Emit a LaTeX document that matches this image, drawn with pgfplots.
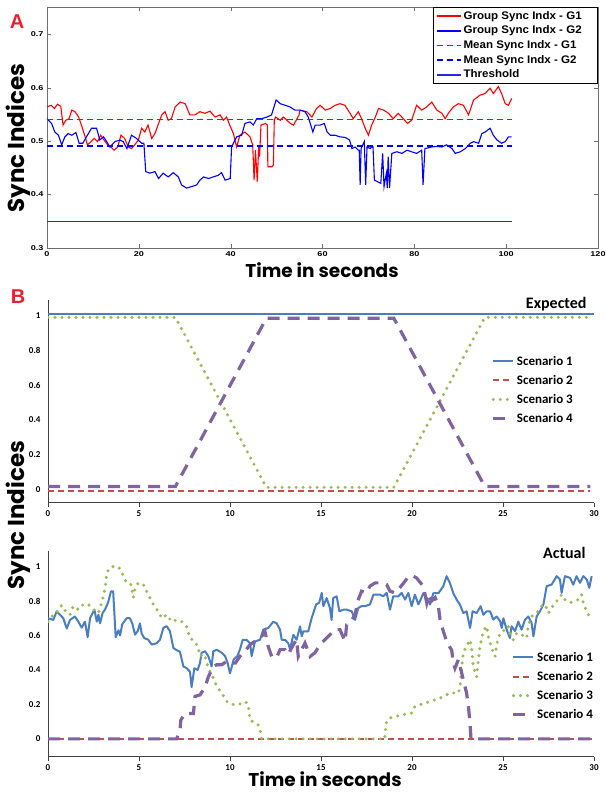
\documentclass[border=0pt]{standalone}
\usepackage{fontspec}
\setmainfont{Liberation Sans}
\newfontfamily\wide{Liberation Sans}[FakeStretch=1.3]
\newfontfamily\wider{Liberation Sans}[FakeStretch=1.05]
\newfontfamily\calib{Carlito}
\newfontfamily\gothic{Poppins}
\usepackage{pgfplots}
\pgfplotsset{compat=1.18}

\definecolor{gA}{RGB}{255,0,0}
\definecolor{gB}{RGB}{0,0,255}
\definecolor{thr}{RGB}{40,40,215}
\definecolor{sOne}{RGB}{74,126,193}
\definecolor{sTwo}{RGB}{192,80,77}
\definecolor{sThree}{RGB}{155,187,89}
\definecolor{sFour}{RGB}{128,100,162}
\definecolor{lblred}{RGB}{235,30,45}
\definecolor{frameA}{RGB}{110,110,110}

\pgfplotsset{
  scenario/.style={
    scale only axis, width=546pt,
    xmin=0, xmax=30, xtick={0,5,10,15,20,25,30},
    ytick={0,0.2,0.4,0.6,0.8,1},
    axis x line*=bottom, axis y line*=left,
    axis line style={black!75, line width=1pt},
    tick align=outside, major tick length=4pt,
    xtick style={black!75, line width=0.8pt}, ytick style={draw=none},
    ticklabel style={font=\calib\bfseries\fontsize{9}{10}\selectfont},
    /pgf/number format/assume math mode=true,
    legend image code/.code={\draw[##1] (0pt,0pt) -- (20pt,0pt);},
    legend cell align=left,
  },
  s1/.style={color=sOne, line width=2.4pt},
  s2/.style={color=sTwo, line width=2pt, dash pattern=on 6pt off 4pt},
  s3/.style={color=sThree, line width=3.4pt, line cap=round, dash pattern=on 0pt off 7pt},
  s4/.style={color=sFour, line width=3.2pt, dash pattern=on 12pt off 8pt},
  gone/.style={color=gA, line width=1.1pt},
  gtwo/.style={color=gB, line width=1.1pt},
  mone/.style={color=gA, line width=1.3pt, dash pattern=on 6pt off 4pt},
  mtwo/.style={color=gB, line width=1.3pt, dash pattern=on 6pt off 4pt},
  thresh/.style={color=thr, line width=1.4pt},
}

\begin{document}
\begin{tikzpicture}
\useasboundingbox (0,0) rectangle (605pt,794pt);

% ---------------- panel A ----------------
\begin{axis}[
  at={(47pt,546pt)}, anchor=south west,
  scale only axis, width=551pt, height=240.5pt,
  xmin=0, xmax=120, ymin=0.3, ymax=0.75,
  xtick={0,20,40,60,80,100,120},
  ytick={0.3,0.4,0.5,0.6,0.7},
  yticklabels={0.3,0.4,0.5,0.6,0.7},
  tick align=inside, major tick length=4pt,
  axis line style={frameA}, tick style={frameA},
  ticklabel style={font=\wide\bfseries\fontsize{7}{8}\selectfont},
  /pgf/number format/assume math mode=true,
  legend image code/.code={\draw[#1, line width=1.7pt] (0pt,0pt) -- (24pt,0pt);},
  legend cell align=left,
  legend style={at={(1,1)}, anchor=north east, draw=black, line width=0.6pt,
    font=\wider\bfseries\fontsize{11}{12}\selectfont, row sep=1.2pt, inner ysep=1.5pt},
]
% G1 group sync index
\addplot[gone] coordinates {
(0,0.564) (0.9,0.567) (1.6,0.561) (2.3,0.569) (3.0,0.565) (3.5,0.530) (4.1,0.539) (4.8,0.542)
(5.4,0.558) (6.1,0.555) (6.9,0.545) (7.6,0.527) (8.3,0.508) (8.8,0.493) (9.6,0.499) (10.3,0.505)
(11.0,0.499) (11.7,0.511) (12.4,0.502) (13.2,0.493) (13.9,0.489) (14.6,0.483) (15.4,0.489)
(16.1,0.511) (16.9,0.505) (17.7,0.489) (18.4,0.486) (19.1,0.493) (19.9,0.502) (20.6,0.524)
(21.3,0.517) (22.0,0.530) (22.8,0.505) (23.5,0.514) (24.3,0.533) (25.0,0.549) (25.7,0.555)
(26.4,0.539) (27.1,0.542) (27.9,0.564) (29.0,0.573) (30.1,0.570) (31.1,0.549) (32.2,0.549)
(33.3,0.555) (34.4,0.552) (35.5,0.556) (36.6,0.545) (37.7,0.549) (38.4,0.539) (39.1,0.545)
(39.8,0.530) (40.6,0.514) (41.3,0.489) (42.0,0.511) (43.1,0.517) (44.2,0.508) (44.8,0.493)
(45.1,0.427) (45.4,0.483) (45.8,0.424) (46.1,0.489) (46.3,0.471) (46.6,0.530) (47.6,0.533)
(48.0,0.530) (48.1,0.452) (49.0,0.452) (49.3,0.455) (49.5,0.540) (49.8,0.545) (50.8,0.539)
(51.5,0.545) (53.0,0.533) (53.7,0.530) (54.9,0.549)
(55.1,0.558) (56.6,0.555) (57.7,0.545) (58.7,0.561) (59.5,0.567) (60.6,0.558) (61.7,0.561)
(62.7,0.567) (63.8,0.570) (64.9,0.567) (66.0,0.552) (66.7,0.542) (67.8,0.555) (68.5,0.542)
(69.3,0.524) (70.0,0.511) (70.7,0.530) (71.5,0.545) (72.2,0.561) (73.3,0.558) (74.4,0.552)
(75.4,0.542) (76.5,0.552) (77.6,0.542) (78.5,0.533) (79.4,0.539) (80.5,0.567) (81.6,0.558)
(82.7,0.564) (83.8,0.573) (84.9,0.558) (86.0,0.552) (86.7,0.542) (87.4,0.552) (88.5,0.564)
(89.6,0.570) (90.7,0.567) (91.8,0.549) (92.9,0.577) (94.3,0.586) (95.4,0.589) (96.5,0.599)
(97.2,0.589) (98.3,0.602) (99.0,0.589) (99.8,0.570) (100.5,0.567) (101.2,0.580)
};
\addlegendentry{Group Sync Indx - G1\hspace*{11pt}}
% G2 group sync index
\addplot[gtwo] coordinates {
(0,0.542) (1.0,0.533) (1.7,0.517) (2.5,0.511) (3.2,0.493) (3.9,0.508) (4.6,0.514) (5.4,0.511)
(6.3,0.516) (7.0,0.496) (7.8,0.496) (8.6,0.508) (9.7,0.524) (10.8,0.524) (11.5,0.502)
(12.3,0.508) (13.0,0.499) (13.7,0.489) (14.8,0.499) (15.9,0.502) (16.6,0.499) (17.4,0.486)
(18.4,0.511) (19.5,0.505) (20.6,0.496) (21.1,0.496) (21.5,0.443) (22.4,0.440) (23.5,0.443)
(24.3,0.430) (25.3,0.440) (26.4,0.433) (27.5,0.441) (28.6,0.433) (29.3,0.418) (30.4,0.412)
(31.5,0.415) (32.6,0.418) (33.3,0.427) (34.1,0.433) (35.2,0.430) (36.2,0.433) (37.3,0.436)
(38.0,0.441) (38.8,0.427) (39.9,0.430) (40.2,0.489) (40.6,0.496) (41.3,0.508) (42.4,0.511)
(43.1,0.533) (44.2,0.536) (44.9,0.530) (45.7,0.542) (46.8,0.542) (47.9,0.545) (48.9,0.549)
(49.9,0.577) (50.8,0.570) (51.9,0.567) (52.9,0.564) (54.0,0.558) (55.1,0.558)
(56.2,0.555) (56.9,0.545) (57.9,0.517) (58.4,0.530) (59.5,0.530) (60.4,0.533) (61.0,0.517)
(61.7,0.511) (62.7,0.511) (63.8,0.508) (64.9,0.507) (65.9,0.502) (66.4,0.486) (67.1,0.489)
(67.8,0.483) (68.0,0.483) (68.2,0.418) (68.4,0.486) (69.1,0.499) (69.4,0.418) (69.7,0.489)
(70.4,0.486) (70.7,0.489) (71.0,0.489) (71.3,0.427) (72.0,0.424) (72.7,0.421) (73.1,0.477)
(73.4,0.415) (73.9,0.440) (74.1,0.412) (74.3,0.471) (74.6,0.412) (75.1,0.477) (76.2,0.480)
(77.3,0.477) (78.4,0.483) (79.4,0.480) (80.5,0.477) (81.6,0.483) (81.9,0.418) (82.3,0.486)
(83.8,0.489) (84.9,0.490) (86.0,0.489) (87.0,0.493) (88.2,0.486) (88.9,0.477) (90.0,0.480)
(91.1,0.486) (92.2,0.496) (92.9,0.499) (94.0,0.496) (94.7,0.514) (95.4,0.517) (96.5,0.524)
(97.2,0.511) (98.0,0.502) (99.0,0.496) (99.8,0.499) (100.5,0.508) (101.2,0.508)
};
\addlegendentry{Group Sync Indx - G2}
\addplot[mone] coordinates {(0,0.541) (50,0.541) (101.2,0.541)};
\addlegendentry{Mean Sync Indx - G1}
\addplot[mtwo] coordinates {(0,0.491) (50,0.491) (101.2,0.491)};
\addlegendentry{Mean Sync Indx - G2}
\addplot[thresh] coordinates {(0,0.35) (50,0.35) (101.2,0.35)};
\addlegendentry{Threshold}
\end{axis}

% ---------------- panel B, expected ----------------
\begin{axis}[scenario,
  at={(48pt,291pt)}, anchor=south west, height=203pt,
  ymin=-0.08, ymax=1.09,
  legend style={at={(0.812,0.735)}, anchor=north west, draw=none, fill=none,
    font=\calib\bfseries\fontsize{13}{14}\selectfont, row sep=4.5pt, inner sep=0pt},
]
\addplot[s1] coordinates {(0,1.01) (30,1.01)};
\addlegendentry{Scenario 1}
\addplot[s2] coordinates {(0,-0.01) (29.8,-0.01)};
\addlegendentry{Scenario 2}
\addplot[s3] coordinates {(0,0.99) (7,0.99) (12,0.01) (19,0.01) (24,0.99) (29.8,0.99)};
\addlegendentry{Scenario 3}
\addplot[s4] coordinates {(0,0.015) (7,0.015) (12,0.985) (19,0.985) (24,0.015) (29.8,0.015)};
\addlegendentry{Scenario 4}
\end{axis}

% ---------------- panel B, actual ----------------
\begin{axis}[scenario,
  at={(48pt,37pt)}, anchor=south west, height=206pt,
  ymin=-0.105, ymax=1.09,
  legend style={at={(0.849,0.52)}, anchor=north west, draw=none, fill=none,
    font=\calib\bfseries\fontsize{13}{14}\selectfont, row sep=4.5pt, inner sep=0pt},
]
\addplot[s1, line width=2pt, line join=round] coordinates {
(0,0.70) (0.29,0.69) (0.48,0.74) (0.66,0.72) (0.84,0.70) (1.03,0.64) (1.21,0.69) (1.48,0.71)
(1.67,0.68) (1.85,0.645) (2.03,0.68) (2.18,0.59) (2.31,0.70) (2.55,0.75) (2.68,0.68) (2.77,0.72)
(2.86,0.67) (3.0,0.73) (3.13,0.75) (3.3,0.79) (3.46,0.856) (3.58,0.856) (3.72,0.59) (3.87,0.63)
(3.96,0.60) (4.08,0.665) (4.32,0.70) (4.5,0.70) (4.63,0.67) (4.78,0.605) (4.93,0.625) (5.05,0.67)
(5.15,0.61) (5.29,0.585) (5.51,0.575) (5.7,0.547) (5.97,0.555) (6.15,0.575) (6.34,0.644)
(6.52,0.654) (6.7,0.625) (6.89,0.527) (7.07,0.515) (7.25,0.505) (7.44,0.42) (7.62,0.41)
(7.8,0.39) (7.89,0.30) (8.04,0.41) (8.22,0.40) (8.35,0.44) (8.44,0.50) (8.63,0.508) (8.81,0.48)
(8.99,0.42) (9.08,0.508) (9.27,0.517) (9.54,0.50) (9.73,0.48) (9.87,0.44) (10.0,0.38) (10.2,0.46)
(10.4,0.48) (10.55,0.52) (10.7,0.575) (10.9,0.575) (11.1,0.555) (11.19,0.48) (11.37,0.565)
(11.65,0.575) (11.83,0.634) (12.1,0.643) (12.38,0.68) (12.56,0.67) (12.75,0.634) (12.84,0.575)
(13.02,0.575) (13.2,0.555) (13.3,0.52) (13.48,0.604) (13.66,0.575) (13.85,0.653) (13.94,0.595)
(14.03,0.624) (14.3,0.624) (14.49,0.702) (14.73,0.78) (14.9,0.79) (15.04,0.847) (15.13,0.77)
(15.31,0.817) (15.49,0.76) (15.58,0.69) (15.67,0.817) (15.86,0.827) (16.01,0.74) (16.23,0.75)
(16.41,0.75) (16.69,0.74) (16.87,0.69) (17.05,0.76) (17.23,0.77) (17.42,0.77) (17.69,0.78)
(17.88,0.837) (18.06,0.837) (18.24,0.837) (18.42,0.827) (18.61,0.847) (18.79,0.75) (18.97,0.827)
(19.25,0.827) (19.43,0.847) (19.62,0.808) (19.8,0.847) (19.98,0.77) (20.16,0.837) (20.35,0.78)
(20.44,0.80) (20.62,0.845) (20.81,0.818) (20.99,0.78) (21.17,0.845) (21.45,0.845) (21.72,0.886)
(21.9,0.944) (22.08,0.905) (22.27,0.845) (22.45,0.808) (22.63,0.78) (22.82,0.73) (23.0,0.74)
(23.19,0.643) (23.33,0.74) (23.55,0.73) (23.77,0.77) (23.92,0.72) (24.1,0.74) (24.29,0.74)
(24.47,0.692) (24.65,0.71) (24.84,0.683) (24.93,0.643) (25.02,0.70) (25.2,0.634) (25.38,0.585)
(25.47,0.654) (25.66,0.625) (25.84,0.68) (26.02,0.634) (26.21,0.692) (26.39,0.71) (26.57,0.673)
(26.67,0.595) (26.85,0.71) (27.03,0.74) (27.22,0.78) (27.4,0.886) (27.67,0.895) (27.95,0.944)
(28.13,0.925) (28.22,0.847) (28.4,0.944) (28.68,0.934) (28.86,0.895) (29.04,0.944) (29.23,0.905)
(29.41,0.944) (29.6,0.925) (29.74,0.876) (29.87,0.944)
};
\addlegendentry{Scenario 1}
\addplot[s2] coordinates {(0,0) (29.9,0)};
\addlegendentry{Scenario 2}
\addplot[s3] coordinates {
(0,0.68) (0.2,0.71) (0.48,0.73) (0.75,0.775) (0.97,0.74) (1.21,0.72) (1.39,0.77) (1.67,0.75)
(1.94,0.78) (2.22,0.78) (2.49,0.75) (2.77,0.73) (2.95,0.79) (3.1,0.856) (3.19,0.915) (3.22,0.963)
(3.46,0.998) (3.68,1.0) (3.87,0.998) (4.05,0.97) (4.14,0.944) (4.32,0.905) (4.56,0.895)
(4.69,0.82) (4.78,0.87) (4.96,0.905) (5.24,0.895) (5.51,0.837) (5.79,0.78) (6.06,0.74)
(6.25,0.70) (6.52,0.72) (6.8,0.68) (7.07,0.69) (7.35,0.68) (7.62,0.65) (7.8,0.585) (8.08,0.565)
(8.26,0.528) (8.35,0.48) (8.6,0.49) (8.81,0.41) (9.08,0.354) (9.27,0.305) (9.54,0.266)
(9.82,0.218) (10.09,0.20) (10.5,0.20) (10.82,0.217) (11.0,0.20) (11.1,0.11) (11.56,0.08)
(11.68,0.04) (11.74,0.0) (18.5,0.0) (18.57,0.09) (18.75,0.12) (19.1,0.13) (19.5,0.14)
(19.98,0.15) (20.16,0.188) (20.44,0.198) (20.99,0.217) (21.54,0.236) (22.09,0.266) (22.55,0.266)
(22.64,0.305) (22.73,0.42) (22.82,0.50) (23.0,0.54) (23.19,0.575) (23.28,0.52) (23.37,0.42)
(23.55,0.36) (23.64,0.45) (23.74,0.54) (23.92,0.625) (24.1,0.654) (24.2,0.59) (24.38,0.527)
(24.56,0.478) (24.65,0.55) (24.84,0.614) (25.11,0.634) (25.29,0.654) (25.38,0.605) (25.56,0.575)
(25.75,0.614) (26.02,0.605) (26.3,0.585) (26.39,0.66) (26.57,0.71) (26.76,0.73) (26.94,0.74)
(27.12,0.77) (27.31,0.78) (27.49,0.73) (27.67,0.76) (27.85,0.79) (28.04,0.808) (28.22,0.837)
(28.4,0.808) (28.68,0.79) (28.95,0.80) (29.13,0.808) (29.32,0.837) (29.41,0.79) (29.6,0.74)
(29.78,0.70) (29.9,0.71)
};
\addlegendentry{Scenario 3}
\addplot[s4] coordinates {
(0,0) (7.07,0) (7.25,0.05) (7.3,0.11) (7.53,0.147) (7.99,0.147) (8.08,0.247) (8.35,0.255)
(8.63,0.30) (8.81,0.36) (9.08,0.42) (9.27,0.43) (9.54,0.43) (9.82,0.45) (10.09,0.44) (10.3,0.44)
(10.55,0.48) (10.82,0.508) (11.1,0.547) (11.37,0.566) (11.74,0.595) (11.92,0.624) (12.1,0.536)
(12.29,0.478) (12.56,0.47) (12.75,0.518) (13.02,0.518) (13.2,0.49) (13.48,0.547) (13.66,0.576)
(13.75,0.478) (13.94,0.518) (14.12,0.556) (14.4,0.478) (14.67,0.50) (14.95,0.547) (15.22,0.576)
(15.49,0.605) (15.77,0.634) (16.04,0.634) (16.32,0.566) (16.41,0.663) (16.59,0.673) (16.87,0.72)
(17.05,0.808) (17.23,0.857) (17.51,0.847) (17.69,0.886) (17.97,0.905) (18.24,0.905) (18.61,0.895)
(18.79,0.857) (19.07,0.847) (19.25,0.866) (19.62,0.915) (19.8,0.944) (20.07,0.944) (20.25,0.934)
(20.62,0.886) (20.81,0.79) (20.9,0.83) (21.08,0.80) (21.27,0.82) (21.45,0.77) (21.54,0.692)
(21.72,0.625) (21.9,0.566) (22.05,0.537) (22.18,0.515) (22.27,0.44) (22.36,0.41) (22.55,0.46)
(22.82,0.343) (23.0,0.265) (23.1,0.188) (23.19,0.09) (23.24,0.0) (29.9,0.0)
};
\addlegendentry{Scenario 4}
\end{axis}

% ---------------- labels ----------------
\node[lblred, font=\bfseries\fontsize{20}{20}\selectfont] at (17pt,772pt) {A};
\node[lblred, font=\bfseries\fontsize{20}{20}\selectfont] at (18pt,497pt) {B};
\node[rotate=90, font=\gothic\bfseries\fontsize{23}{25}\selectfont] at (18pt,656pt) {Sync Indices};
\node[rotate=90, font=\gothic\bfseries\fontsize{23}{25}\selectfont] at (18pt,279pt) {Sync Indices};
\node[font=\gothic\bfseries\fontsize{18.5}{21}\selectfont] at (322pt,524pt) {Time in seconds};
\node[font=\gothic\bfseries\fontsize{18.5}{21}\selectfont] at (325pt,15pt) {Time in seconds};
\node[anchor=east, font=\calib\bfseries\fontsize{16}{17}\selectfont] at (590pt,490pt) {Expected};
\node[anchor=east, font=\calib\bfseries\fontsize{16}{17}\selectfont] at (589pt,241pt) {Actual};
\end{tikzpicture}
\end{document}
